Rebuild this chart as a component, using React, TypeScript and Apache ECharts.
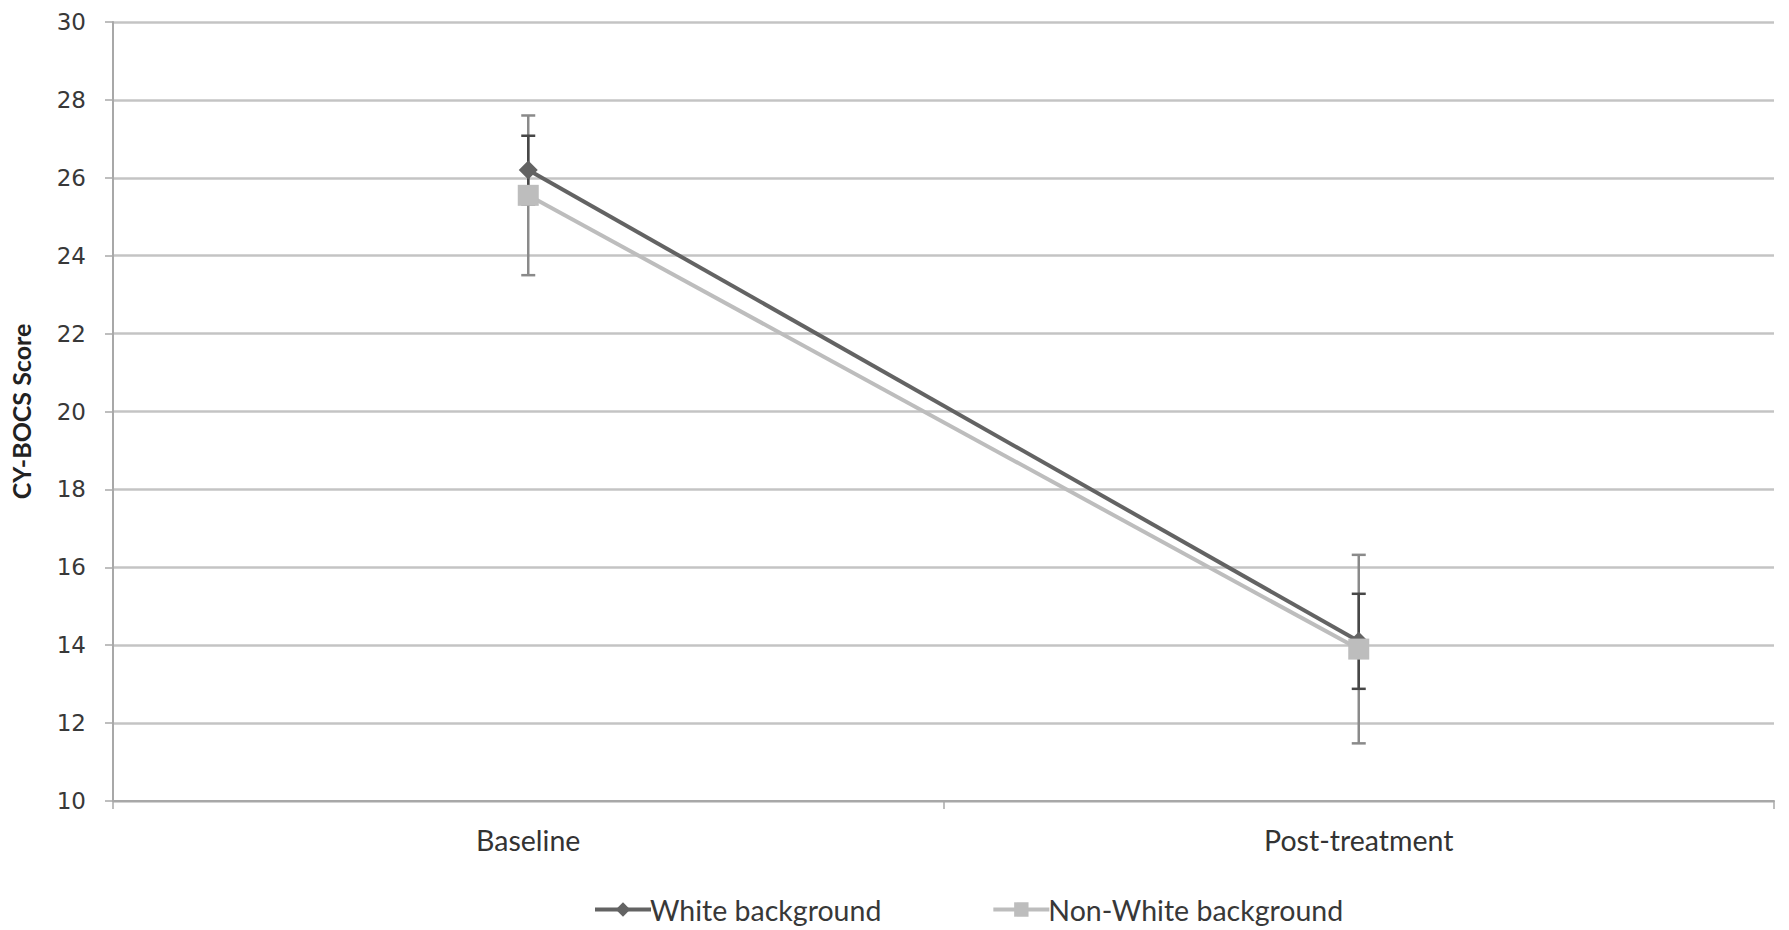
import React, { useEffect, useRef } from "react";
import * as echarts from "echarts";

const categories = ["Baseline", "Post-treatment"];
const whiteMean = [26.2, 14.1];
const whiteSD = [0.88, 1.22];
const nonWhiteMean = [25.55, 13.9];
const nonWhiteSD = [2.05, 2.42];
const yTicks = { min: 10, max: 30, interval: 2 };

function errData(mean: number[], sd: number[]) {
  return mean.map((m, i) => [i, m - sd[i], m + sd[i]]);
}

function errSeries(name: string, data: number[][], color: string, z: number) {
  return {
    type: "custom",
    name,
    z,
    silent: true,
    renderItem: (params: any, api: any) => {
      const x = api.value(0);
      const lo = api.coord([x, api.value(1)]);
      const hi = api.coord([x, api.value(2)]);
      const w = 7;
      const style = { stroke: color, lineWidth: 2.5 };
      return {
        type: "group",
        children: [
          { type: "line", shape: { x1: lo[0], y1: lo[1], x2: hi[0], y2: hi[1] }, style },
          { type: "line", shape: { x1: lo[0] - w, y1: lo[1], x2: lo[0] + w, y2: lo[1] }, style },
          { type: "line", shape: { x1: hi[0] - w, y1: hi[1], x2: hi[0] + w, y2: hi[1] }, style },
        ],
      };
    },
    data,
    encode: { x: 0, y: [1, 2] },
  };
}

export default function App() {
  const ref = useRef<HTMLDivElement>(null);
  useEffect(() => {
    const chart = echarts.init(ref.current!, undefined, { renderer: "svg" });
    const catFont = "Lato, 'Open Sans', sans-serif";
    chart.setOption({
      animation: false,
      backgroundColor: "#ffffff",
      grid: { left: 111, right: 15, top: 22, bottom: 129 },
      legend: {
        bottom: 6,
        left: 593,
        padding: 0,
        itemWidth: 56,
        itemHeight: 18,
        itemGap: 110,
        lineStyle: { width: 4 },
        data: ["White background", "Non-White background"],
        textStyle: { fontFamily: catFont, fontSize: 28.5, color: "#383838", padding: [0, 0, 0, -6] },
      },
      xAxis: {
        type: "category",
        data: categories,
        boundaryGap: true,
        axisLine: { lineStyle: { color: "#a8a8a8", width: 2 } },
        axisTick: { show: true, length: 8, lineStyle: { color: "#a8a8a8", width: 1.5 } },
        axisLabel: { fontFamily: catFont, fontSize: 28.5, color: "#333", margin: 24 },
      },
      yAxis: {
        type: "value",
        min: yTicks.min,
        max: yTicks.max,
        interval: yTicks.interval,
        name: "CY-BOCS Score",
        nameLocation: "middle",
        nameGap: 80,
        nameTextStyle: { fontFamily: catFont, fontSize: 25, fontWeight: "bold", color: "#222" },
        axisLine: { show: true, lineStyle: { color: "#a8a8a8", width: 2 } },
        axisTick: { show: true, length: 8, lineStyle: { color: "#a8a8a8", width: 1.5 } },
        axisLabel: { fontFamily: "'DejaVu Sans', sans-serif", fontSize: 23, color: "#383838", margin: 27 },
        splitLine: { lineStyle: { color: "#c4c4c4", width: 2.5 } },
      },
      series: [
        errSeries("nwErr", errData(nonWhiteMean, nonWhiteSD), "#8a8a8a", 1),
        errSeries("wErr", errData(whiteMean, whiteSD), "#474747", 2),
        {
          type: "line",
          name: "White background",
          data: whiteMean,
          z: 3,
          symbol: "diamond",
          symbolSize: 19,
          lineStyle: { color: "#636363", width: 4 },
          itemStyle: { color: "#636363" },
        },
        {
          type: "line",
          name: "Non-White background",
          data: nonWhiteMean,
          z: 4,
          symbol: "rect",
          symbolSize: 21,
          lineStyle: { color: "#bdbdbd", width: 4 },
          itemStyle: { color: "#bdbdbd" },
        },
      ],
    });
    return () => chart.dispose();
  }, []);
  return (
    <div
      ref={ref}
      style={{ position: "fixed", left: 0, top: 0, width: 1789, height: 930, background: "#fff" }}
    />
  );
}
